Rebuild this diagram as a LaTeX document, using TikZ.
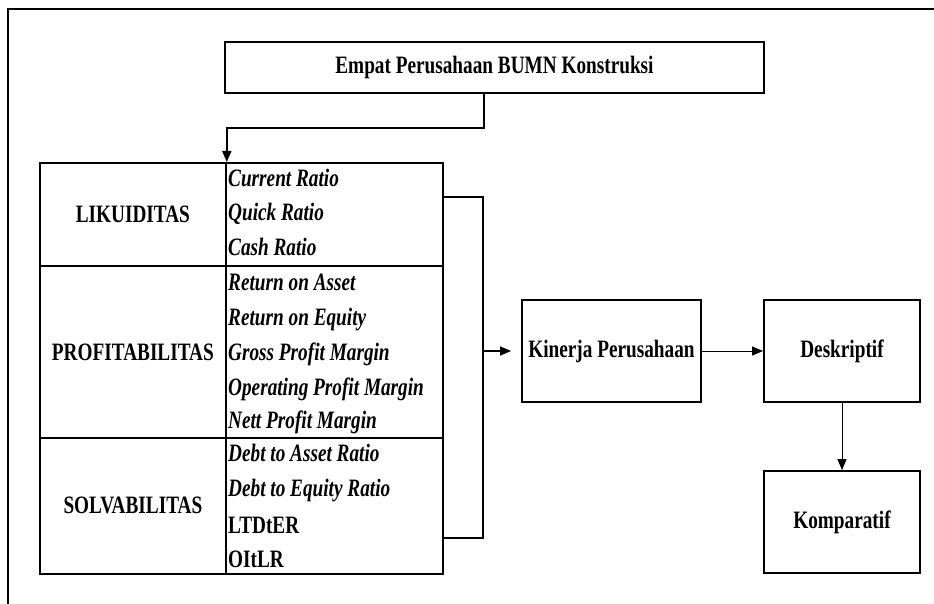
\documentclass[tikz,border=0pt]{standalone}
\usepackage{fontspec}
\setmainfont{Liberation Serif}[FakeStretch=0.77]
\usetikzlibrary{arrows.meta}

\tikzset{
	kotak/.style={draw, line width=1.8pt, inner sep=0pt, font=\bfseries\fontsize{25}{30}\selectfont},
	sel/.style={kotak, anchor=north west},
	butir/.style={anchor=base west, inner sep=0pt, font=\bfseries\itshape\fontsize{25}{30}\selectfont},
	butirtegak/.style={butir, font=\bfseries\fontsize{25}{30}\selectfont},
	panah/.style={-{Triangle[length=11pt,width=9pt]}}
}

\begin{document}
\begin{tikzpicture}[x=1pt,y=-1pt]
	\useasboundingbox (0,0) rectangle (934,604);
	\draw[line width=2.5pt] (8,604) -- (8,9) -- (934,9);

	\node[kotak, minimum width=539pt, minimum height=51pt] (empat) at (494.5,67.5) {Empat Perusahaan BUMN Konstruksi};

	% tabel rasio
	\node[sel, minimum width=186pt, minimum height=103pt] (lik) at (39,162) {LIKUIDITAS};
	\node[sel, minimum width=217pt, minimum height=103pt] (likr) at (225,162) {};
	\node[sel, minimum width=186pt, minimum height=172pt] (prof) at (39,265) {PROFITABILITAS};
	\node[sel, minimum width=217pt, minimum height=172pt] (profr) at (225,265) {};
	\node[sel, minimum width=186pt, minimum height=136pt] (solv) at (39,437) {SOLVABILITAS};
	\node[sel, minimum width=217pt, minimum height=136pt] (solvr) at (225,437) {};

	\node[butir] (cr) at (228,187) {Current Ratio};
	\node[butir] (qr) at (228,221) {Quick Ratio};
	\node[butir] (cashr) at (228,255) {Cash Ratio};
	\node[butir] (roa) at (228,290) {Return on Asset};
	\node[butir] (roe) at (228,325) {Return on Equity};
	\node[butir] (gpm) at (228,360) {Gross Profit Margin};
	\node[butir] (opm) at (228,395) {Operating Profit Margin};
	\node[butir] (npm) at (228,428) {Nett Profit Margin};
	\node[butir] (dar) at (228,461) {Debt to Asset Ratio};
	\node[butir] (der) at (228,496) {Debt to Equity Ratio};
	\node[butirtegak] (ltdter) at (228,533) {LTDtER};
	\node[butirtegak] (oitlr) at (228,567) {OItLR};

	\node[kotak, minimum width=179pt, minimum height=102pt] (kinerja) at (611.5,351) {Kinerja Perusahaan};
	\node[kotak, minimum width=156pt, minimum height=102pt] (deskriptif) at (842,351) {Deskriptif};
	\node[kotak, minimum width=156pt, minimum height=102pt] (komparatif) at (842,522) {Komparatif};

	% garis penghubung
	\coordinate (belok) at (484,128);
	\coordinate (kanan1) at (483,197);
	\coordinate (kanan2) at (483,538);
	\draw[line width=1.8pt, panah] (empat.south -| belok) -- (belok) -| (lik.north east);
	\draw[line width=1.8pt] (likr.east |- kanan1) -- (kanan1) -- (kanan2) -- (solvr.east |- kanan2);
	\draw[line width=1.5pt, panah, shorten >=10pt] (kinerja.west -| kanan1) -- (kinerja.west);
	\draw[line width=1pt, panah] (kinerja) -- (deskriptif);
	\draw[line width=1pt, panah] (deskriptif) -- (komparatif);
\end{tikzpicture}
\end{document}
